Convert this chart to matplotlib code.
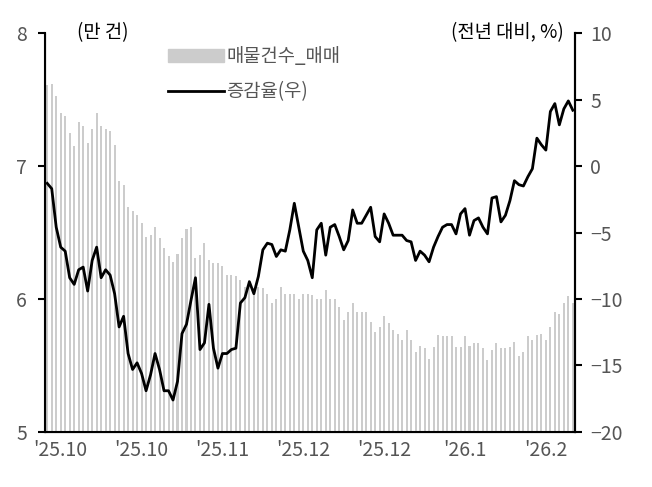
import matplotlib
matplotlib.use('Agg')
import matplotlib.pyplot as plt
import numpy as np
from matplotlib.patches import Patch
from matplotlib.lines import Line2D

plt.rcParams['font.family'] = ['Noto Sans CJK KR', 'DejaVu Sans']
plt.rcParams['font.weight'] = 'light'

# 매물건수_매매 (만 건)
listings = [7.61, 7.62, 7.53, 7.40, 7.38, 7.25, 7.15, 7.33, 7.30, 7.17, 7.28, 7.40, 7.30, 7.28, 7.26, 7.16,
            6.89, 6.86, 6.69, 6.66, 6.63, 6.57, 6.47, 6.48, 6.54, 6.46, 6.38, 6.32, 6.28, 6.34, 6.46, 6.53,
            6.54, 6.31, 6.33, 6.42, 6.29, 6.27, 6.27, 6.25, 6.18, 6.18, 6.17, 6.14, 6.09, 6.14, 6.08, 6.09,
            6.08, 6.04, 5.97, 6.00, 6.09, 6.04, 6.04, 6.04, 6.00,
            6.04, 6.04, 6.03, 6.00, 6.00, 6.07, 6.00, 6.00, 5.94, 5.84, 5.90, 5.97, 5.90, 5.90, 5.90, 5.83,
            5.75, 5.79, 5.87, 5.82, 5.77, 5.74, 5.69, 5.77, 5.69, 5.60, 5.65, 5.63, 5.55, 5.64, 5.73, 5.72,
            5.72, 5.72, 5.64, 5.64, 5.72, 5.65, 5.67, 5.67, 5.63, 5.54, 5.62, 5.67, 5.63, 5.63, 5.64, 5.68,
            5.57, 5.60, 5.72, 5.69, 5.73, 5.74, 5.69, 5.79, 5.90, 5.89, 5.97, 6.02, 5.97]
# 증감율(우) (전년 대비, %)
growth = [-1.3, -1.7, -4.6, -6.1, -6.4, -8.4, -8.9, -7.8, -7.6, -9.4, -7.1, -6.1, -8.4, -7.8, -8.2, -9.6,
          -12.1, -11.3, -14.1, -15.3, -14.8, -15.6, -16.9, -15.7, -14.1, -15.3, -16.9, -16.9, -17.6, -16.2,
          -12.6, -11.9, -10.1, -8.4, -13.8, -13.3, -10.4, -13.7, -15.2, -14.1, -14.1, -13.8, -13.7, -10.3,
          -9.9, -8.7, -9.6, -8.3, -6.3, -5.8, -5.9, -6.8, -6.3, -6.4, -4.8, -2.8, -4.6, -6.4, -7.1, -8.4,
          -4.8, -4.3, -6.7, -4.6, -4.4, -5.3, -6.3, -5.6, -3.3, -4.3, -4.3, -3.7, -3.1, -5.3, -5.7, -3.6,
          -4.3, -5.2, -5.2, -5.2, -5.6, -5.7, -7.1, -6.4, -6.7, -7.2, -6.1, -5.3, -4.6, -4.4, -4.4, -5.1,
          -3.6, -3.2, -5.2, -4.1, -3.9, -4.6, -5.1, -2.4, -2.3, -4.2, -3.7, -2.6, -1.1, -1.4, -1.5, -0.8,
          -0.2, 2.1, 1.6, 1.2, 4.1, 4.7, 3.1, 4.3, 4.9, 4.2]
tick_pos = [3, 21, 39, 57, 75, 93, 111]
tick_labels = ["'25.10", "'25.10", "'25.11", "'25.12", "'25.12", "'26.1", "'26.2"]

TXT = '#555555'
fig = plt.figure(figsize=(6.52, 4.87), dpi=100)
ax = fig.add_axes([0.069, 0.113, 0.813, 0.819])
x = np.arange(len(listings))
ax.bar(x, listings, width=0.45, color='#cccccc')
ax.set_ylim(5, 8)
ax.set_xlim(-0.5, len(listings) - 0.5)
ax.set_yticks([5, 6, 7, 8])
ax.set_xticks(tick_pos)
ax.set_xticklabels(tick_labels)
ax.tick_params(axis='x', length=0, pad=6, labelsize=14, colors=TXT)
ax.tick_params(axis='y', direction='out', length=5, width=1.5, labelsize=14, labelcolor=TXT, pad=8)
ax.spines['top'].set_visible(False)
for s in ('left', 'bottom', 'right'):
    ax.spines[s].set_linewidth(1.5)

ax2 = ax.twinx()
ax2.plot(np.arange(len(growth)), growth, color='black', lw=2)
ax2.set_ylim(-20, 10)
ax2.set_yticks(range(-20, 11, 5))
ax2.set_yticklabels([str(v).replace('-', '−') for v in range(-20, 11, 5)])
ax2.tick_params(axis='y', direction='out', length=5, width=1.5, labelsize=14, labelcolor=TXT, pad=6)
ax2.spines['top'].set_visible(False)
ax2.spines['right'].set_linewidth(1.5)

fig.text(0.118, 0.922, '(만 건)', fontsize=13.5, color='black')
fig.text(0.865, 0.922, '(전년 대비, %)', fontsize=13.5, color='black', ha='right')

handles = [Patch(color='#cccccc'), Line2D([0], [0], color='black', lw=2)]
leg = ax.legend(handles, ['매물건수_매매', '증감율(우)'], loc='upper left', bbox_to_anchor=(0.2, 1.01),
                frameon=False, fontsize=13.5, handlelength=3, handletextpad=0.1, labelspacing=0.75)
for t in leg.get_texts():
    t.set_color(TXT)

fig.savefig('out.png', dpi=100)
